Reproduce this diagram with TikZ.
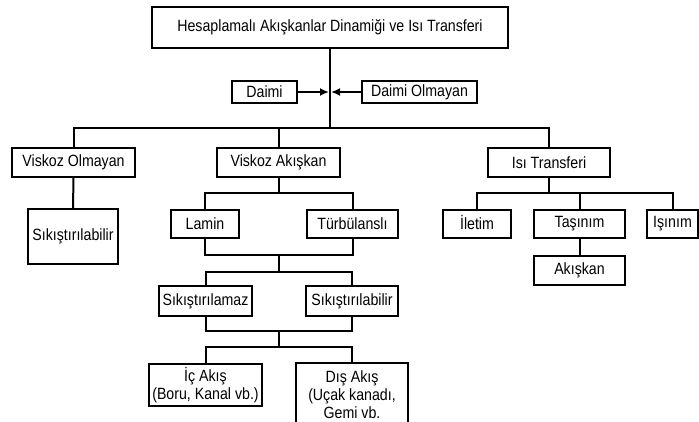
\documentclass[tikz,border=0pt]{standalone}
\usepackage{fontspec}
\setmainfont[FakeStretch=0.87]{Liberation Sans}
\usetikzlibrary{positioning}
\usetikzlibrary{arrows.meta}
\tikzset{
        kutu/.style={draw,line width=1.6pt,inner sep=0pt,align=center,
                font=\fontsize{16.3}{18}\selectfont},
        hat/.style={line width=2pt},
        ok/.style={line width=2pt,-{Latex[length=9pt,width=8pt]},shorten >=1pt},
        }

\begin{document}
\begin{tikzpicture}[x=1pt,y=-1pt]

			\useasboundingbox (0,0) rectangle (699,421);

			% main box...................
			\node [kutu,minimum width=356pt,minimum height=41pt] (baslik) at (330,27.5) {Hesaplamalı Akışkanlar Dinamiği ve Isı Transferi};

			% daimi boxes..................
			\node [kutu,minimum width=65pt,minimum height=22pt] (daimi) at (264.5,92) {Daimi};
			\node [kutu,minimum width=115pt,minimum height=22pt] (daimiol) at (419.5,92) {Daimi Olmayan};

			% first level....................
			\node [kutu,minimum width=123pt,minimum height=29pt] (viskozol) at (73.5,162.5) {Viskoz Olmayan};
			\node [kutu,minimum width=123pt,minimum height=29pt] (viskoz) at (278.5,162.5) {Viskoz Akışkan};
			\node [kutu,minimum width=122pt,minimum height=29pt] (isi) at (549,162.5) {Isı Transferi};

			% second level...................
			\node [kutu,minimum width=90pt,minimum height=55pt] (sikis) at (73,236.5) {Sıkıştırılabilir};
			\node [kutu,minimum width=68pt,minimum height=28pt] (lamin) at (205,224) {Lamin};
			\node [kutu,minimum width=91pt,minimum height=28pt] (turb) at (352.5,224) {Türbülanslı};
			\node [kutu,minimum width=68pt,minimum height=28pt] (iletim) at (477,224) {\smash{İ}letim};
			\node [kutu,minimum width=91pt,minimum height=28pt] (tasinim) at (579.5,224) {Taşınım};
			\node [kutu,minimum width=51pt,minimum height=28pt] (isinim) at (672.5,224) {Işınım};
			\node [kutu,minimum width=91pt,minimum height=29pt] (akiskan) at (579.5,270.5) {Akışkan};

			% third level....................
			\node [kutu,minimum width=93pt,minimum height=30pt] (sikilamaz) at (205.5,301) {Sıkıştırılamaz};
			\node [kutu,minimum width=92pt,minimum height=30pt] (sikilabilir) at (352,301) {Sıkıştırılabilir};

			% flow boxes.....................
			\node [kutu,minimum width=113pt,minimum height=42pt] (ic) at (205.5,385) {İç Akış\\(Boru, Kanal vb.)};
			\node [kutu,minimum width=112pt,minimum height=64pt] (dis) at (352,395) {Dış Akış\\(Uçak kanadı,\\Gemi vb.};

			% junction points................
			\coordinate (merkez) at (330,128);
			\coordinate (vbol) at (278.5,193);
			\coordinate (lbol) at (278.5,255);
			\coordinate (sbol) at (278.5,272);
			\coordinate (abol) at (278.5,331);
			\coordinate (dbol) at (278.5,347);
			\coordinate (ibol) at (549,193);

			% main trunk and arrows..........
			\draw [hat] (baslik.south) -- (merkez);
			\draw [ok] (daimi.east) -- (daimi.east -| merkez);
			\draw [ok] (daimiol.west) -- (daimiol.west -| merkez);

			% first bus......................
			\draw [hat] (viskozol.north) |- (merkez) -| (isi.north);
			\draw [hat] (viskoz.north) -- (viskoz.north |- merkez);
			\draw [hat] (viskozol.south) -- (sikis.north);

			% viscous branch.................
			\draw [hat] (viskoz.south) -- (vbol);
			\draw [hat] (lamin.north) |- (vbol) -| (turb.north);
			\draw [hat] (lamin.south) |- (lbol) -| (turb.south);
			\draw [hat] (lbol) -- (sbol);
			\draw [hat] (sikilamaz.north) |- (sbol) -| (sikilabilir.north);
			\draw [hat] (sikilamaz.south) |- (abol) -| (sikilabilir.south);
			\draw [hat] (abol) -- (dbol);
			\draw [hat] (ic.north) |- (dbol) -| (dis.north);

			% heat transfer branch...........
			\draw [hat] (isi.south) -- (ibol);
			\draw [hat] (iletim.north) |- (ibol) -| (isinim.north);
			\draw [hat] (tasinim.north) -- (tasinim.north |- ibol);
			\draw [hat] (tasinim.south) -- (akiskan.north);
		\end{tikzpicture}
\end{document}
